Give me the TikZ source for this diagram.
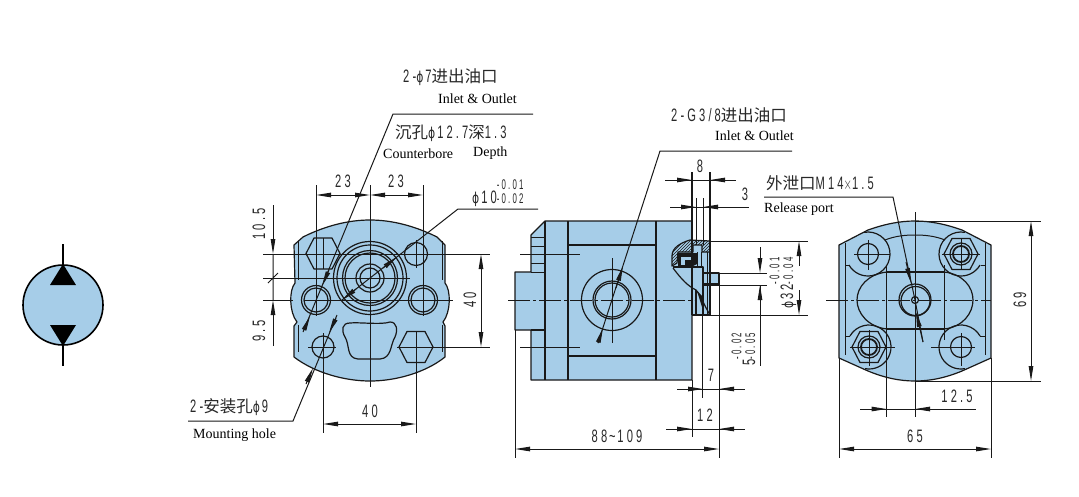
\documentclass[tikz,border=0pt]{standalone}
\usepackage{graphicx}
\usepackage{fontspec}
\setmainfont{Liberation Serif}
\newfontfamily\cjkf{Noto Sans CJK SC}
\newfontfamily\dimf[LetterSpace=28]{Liberation Sans}
\newfontfamily\phif{DejaVu Sans}
\usetikzlibrary{arrows.meta,patterns}
\definecolor{pumpblue}{RGB}{166,205,232}
\definecolor{ink}{RGB}{25,25,25}
\definecolor{txt}{RGB}{40,40,40}
\newcommand\dg[1]{\scalebox{.62}[1]{\fontsize{18}{18}\selectfont\dimf #1}}
\newcommand\cj[1]{{\fontsize{16.5}{17}\selectfont\cjkf #1}}
\newcommand\ph{\scalebox{.72}[1]{\fontsize{15}{15}\selectfont\phif ϕ}\hspace{2pt}}
\newcommand\tol[2]{\scalebox{.56}[1]{\fontsize{14}{13}\selectfont\dimf\begin{tabular}[b]{@{}l@{}}#1\\#2\end{tabular}}}
\tikzset{
  x=1pt,y=-1pt,
  obj/.style={draw=ink,line width=1.2pt,line join=round},
  thin line/.style={draw=ink,line width=1pt},
  cline/.style={draw=ink,line width=1pt,dash pattern=on 22pt off 3pt on 3pt off 3pt},
  dims/.style={draw=ink,line width=1pt},
  both/.style={dims,{Triangle[length=15pt,width=4.5pt]}-{Triangle[length=15pt,width=4.5pt]}},
  endtip/.style={dims,-{Triangle[length=15pt,width=4.5pt]}},
  lbl/.style={inner sep=0pt,text=txt},
  eng/.style={inner sep=0pt,text=black,font=\fontsize{14}{14}\selectfont},
  hexnut/.pic={\draw[obj] (-17,0)--(-9,-15.5)--(9,-15.5)--(17,0)--(9,15.5)--(-9,15.5)--cycle;},
}
\begin{document}
\begin{tikzpicture}
\useasboundingbox (0,0) rectangle (1079,496);
\fill[white] (0,0) rectangle (1079,496);

% ---------- symbol
\draw[line width=1.6pt] (63,244)--(63,366);
\draw[fill=pumpblue,line width=1.6pt] (63,305) circle[radius=40];
\fill (63,264)--(76,285)--(50,285)--cycle;
\fill (63,346)--(76,325)--(50,325)--cycle;
\draw[line width=1.6pt] (63,345)--(63,366) (63,244)--(63,265);

% ---------- front view
\draw[obj,fill=pumpblue] (294,245)--(303,237) .. controls (325,226) and (348,220) .. (370,220)
  .. controls (392,220) and (415,226) .. (437,237) -- (445,245) -- (445,283)
  .. controls (451,290) and (451,312) .. (443,322) -- (445,326) -- (445,357)
  .. controls (425,373) and (395,381) .. (370,381)
  .. controls (345,381) and (315,373) .. (294,357) -- (294,326) -- (297,322)
  .. controls (289,312) and (289,290) .. (295,283) -- cycle;
\draw[thin line] (298,241)--(298,280) (298,325)--(298,352) (442,241)--(442,280) (442,325)--(442,352);
\pic at (323,253.5) {hexnut};
\draw[obj] (416,254) circle[radius=11.5];
\draw[obj] (323,347) circle[radius=11];
\pic at (416,347) {hexnut};
\foreach \hx in {316,423}{
  \draw[obj] (\hx,300) circle[radius=14.5];
  \draw[obj] (\hx,300) circle[radius=12];
}
\foreach \rr in {36.5,33,27.5,25,14,10}{\draw[obj] (370,278) circle[radius=\rr];}
\draw[obj] (350,323) .. controls (358,322) and (382,325) .. (390,322)
  .. controls (397,322) and (398,330) .. (395,337) .. controls (390,345) and (392,358) .. (380,359)
  -- (358,359) .. controls (346,358) and (350,345) .. (345,337)
  .. controls (341,330) and (342,323) .. (350,323) -- cycle;
\draw[thin line] (263,254)--(490,254) (263,278)--(410,278) (263,300)--(293,300) (304,300)--(453,300);
\draw[thin line] (308,347)--(336,347) (397,347)--(490,347);
\draw[thin line] (370,185)--(370,387);
\draw[thin line] (316,185)--(316,316) (423,185)--(423,316);
\draw[thin line] (323,238)--(323,269) (416,240)--(416,268);
\draw[thin line] (323,333)--(323,433) (416,332)--(416,433);
% front dims
\draw[both] (316,195)--(370,195);
\draw[both] (370,195)--(423,195);
\draw[both] (323,424)--(416,424);
\draw[endtip] (273,205)--(273,254);
\draw[endtip] (273,346)--(273,300);
\draw[thin line] (273,254)--(273,300) (268,283)--(278,273);
\draw[both] (481,254)--(481,347);
\node[lbl] (d23a) at (343,181) {\dg{23}};
\node[lbl] (d23b) at (396,181) {\dg{23}};
\node[lbl] (d40b) at (370,411) {\dg{40}};
\node[lbl,rotate=90] (d105) at (259,224) {\dg{10.5}};
\node[lbl,rotate=90] (d95) at (259,331) {\dg{9.5}};
\node[lbl,rotate=90] (d40r) at (470,300) {\dg{40}};
% front leaders
\draw[dims] (533,114)--(393,114)--(303,332);
\draw[endtip] (304,330)--(310,316);
\draw[endtip] (329,270)--(322,286);
\draw[dims] (538,209)--(458,209)--(342,300);
\draw[endtip] (356,289)--(342,300);
\draw[endtip] (383,268)--(397,257);
\draw[dims] (188,421)--(293,421)--(337,315);
\draw[endtip] (306,384)--(313,368);
\draw[endtip] (336,318)--(329,333);
\node[lbl,anchor=west] (t1) at (403,77) {\dg{2-}\ph\dg{7}\cj{进出油口}};
\node[eng,anchor=west] (t1e) at (438,99) {Inlet \& Outlet};
\node[lbl,anchor=west] (t2) at (395,133) {\cj{沉孔}\ph\dg{12.7}\cj{深}\dg{1.3}};
\node[eng,anchor=west] (t2e) at (383,154) {Counterbore};
\node[eng,anchor=west] (t2f) at (473,153) {Depth};
\node[lbl,anchor=base west] (t3) at (472,203) {\ph\dg{10}\tol{-0.01}{-0.02}};
\node[lbl,anchor=west] (t4) at (190,407) {\dg{2-}\cj{安装孔}\ph\dg{9}};
\node[eng,anchor=west] (t4e) at (193,435) {Mounting hole};

% ---------- side view
\draw[obj,fill=pumpblue] (545,221)--(692,221)--(692,380)--(531,380)--(531,330)--(515,330)--(515,272)--(531,272)--(531,235)--cycle;
\draw[obj] (545,221)--(545,330) (531,330)--(545,330) (545,330)--(545,380) (568,221)--(568,380) (656,221)--(656,380);
\draw[obj] (568,245)--(656,245) (568,356)--(656,356);
\draw[thin line] (531,237)--(545,237) (531,246)--(545,246) (531,263)--(545,263) (531,272)--(545,272);
\draw[obj] (612,300) circle[radius=30.5];
\draw[obj] (612,300) circle[radius=19];
\draw[obj] (612,300) circle[radius=17];
% seal / shaft detail
\fill[pumpblue] (692,241) rectangle (710,315);
\draw[obj,fill=pumpblue] (703,273) rectangle (719,284);
\draw[obj,pattern=north east lines,pattern color=ink] (690,240) .. controls (680,243) and (672,248) .. (672,256)
  -- (672,266) -- (677,263) -- (678,252) -- (693,252) -- (693,245) -- (702,245) -- (702,252) -- (710,252) -- (710,241) -- cycle;
\fill[ink] (678,253)--(697,253)--(697,264)--(691,267)--(678,267)--cycle;
\fill[pumpblue] (681,257) rectangle (685,265);
\fill[pumpblue] (681,257) rectangle (691,260);
\draw[obj] (673,268) .. controls (682,280) and (688,286) .. (696,290) .. controls (700,294) and (704,305) .. (710,315);
\fill[ink] (697,291)--(702,296)--(702,307)--cycle;
\draw[obj] (673,267)--(703,267)--(703,315);
\draw[thin line] (697,252)--(697,267) (701,252)--(701,267) (707,252)--(707,315);
\draw[obj] (692,172)--(692,315) (710,172)--(710,315) (692,315)--(710,315) (696,290)--(696,315);
\draw[thin line] (696,198)--(696,245) (703,198)--(703,245);
\draw[thin line] (710,241)--(808,241) (710,315)--(808,315);
\draw[thin line] (719,273)--(767,273) (703,285)--(767,285);
\draw[cline] (508,300)--(694,300);
\draw[thin line] (612,258)--(612,343);
\draw[thin line] (520,254)--(580,254) (520,347)--(580,347);
\draw[thin line] (515,330)--(515,458);
\draw[thin line] (719,284)--(719,458);
\draw[thin line] (692,380)--(692,437);
\draw[thin line] (702.5,315)--(702.5,398);
% side dims
\draw[both] (515,449)--(719,449);
\draw[dims] (677,389)--(745,389);
\draw[endtip] (686,389)--(703,389);
\draw[endtip] (737,389)--(719,389);
\draw[dims] (666,429)--(745,429);
\draw[endtip] (674,429)--(692,429);
\draw[endtip] (737,429)--(719,429);
\draw[dims] (665,180)--(736,180);
\draw[endtip] (672,180)--(692,180);
\draw[endtip] (730,180)--(710,180);
\draw[dims] (670,207)--(749,207);
\draw[endtip] (678,207)--(696,207);
\draw[endtip] (722,207)--(703,207);
\draw[endtip] (760,247)--(760,273);
\draw[endtip] (760,305)--(760,285);
\draw[dims] (760,285)--(760,366);
\draw[endtip] (799,266)--(799,241);
\draw[endtip] (799,290)--(799,315);
\node[lbl] (d88) at (617,436) {\dg{88\,\textasciitilde\,109}};
\node[lbl] (d12) at (705,415) {\dg{12}};
\node[lbl] (d7) at (711,375) {\dg{7}};
\node[lbl] (d8) at (700,166) {\dg{8}};
\node[lbl] (d3) at (745,194) {\dg{3}};
\node[lbl,rotate=90,anchor=base west] (d5) at (755,366) {\dg{5}\tol{-0.02}{-0.05}};
\node[lbl,rotate=90,anchor=base west] (d32) at (793,309) {\ph\dg{32}\tol{-0.01}{-0.04}};
\draw[dims] (792,151)--(660,151)--(598,343);
\draw[endtip] (616,288)--(623,266);
\draw[endtip] (598,343)--(603,328);
\node[lbl,anchor=west] (t5) at (671,115) {\dg{2-G3/8}\cj{进出油口}};
\node[eng,anchor=west] (t5e) at (715,136) {Inlet \& Outlet};
\node[lbl,anchor=west] (t6) at (766,183) {\cj{外泄口}\dg{M14$\times$1.5}};
\node[eng,anchor=west] (t6e) at (764,209) {Release port};

% ---------- rear view
\draw[obj,fill=pumpblue] (839,245)--(868,230) .. controls (885,224) and (900,221) .. (915,221)
  .. controls (930,221) and (945,224) .. (962,230) -- (991,245) -- (991,358) -- (962,371)
  .. controls (945,378) and (930,381) .. (915,381) .. controls (900,381) and (885,378) .. (868,371)
  -- (839,358) -- cycle;
\draw[thin line] (845,243)--(845,355) (985,243)--(985,355);
\draw[thin line] (885,240) .. controls (895,236) and (905,235) .. (915,235) .. controls (925,235) and (935,236) .. (945,240);
\draw[obj] (868,254) ++(100:22pt) arc[start angle=100,end angle=-150,radius=22pt];
\draw[obj] (961,254) ++(80:22pt) arc[start angle=80,end angle=330,radius=22pt];
\draw[obj] (869,347) ++(150:22pt) arc[start angle=150,end angle=-100,radius=22pt];
\draw[obj] (961,347) ++(30:22pt) arc[start angle=30,end angle=280,radius=22pt];
\draw[thin line] (845,265)--(849,265) (981,265)--(985,265) (845,336)--(850,336) (980,336)--(985,336);
\draw[obj] (868,254) circle[radius=10.5];
\draw[obj] (961,347) circle[radius=10.5];
\begin{scope}[scale=.98]
\pic at ({961/.98},{254/.98}) {hexnut};
\pic at ({869/.98},{347/.98}) {hexnut};
\end{scope}
\draw[obj,line width=1.8pt] (961,254) circle[radius=8];
\draw[obj,line width=1.8pt] (869,347) circle[radius=8];
\draw[obj] (961,254) circle[radius=11];
\draw[obj] (869,347) circle[radius=11];
\draw[obj] (887,272)--(944,272) (887,329)--(944,329);
\draw[obj] (887,272) .. controls (868,274) and (857,287) .. (857,300) .. controls (857,313) and (868,327) .. (887,329);
\draw[obj] (944,272) .. controls (963,274) and (973,287) .. (973,300) .. controls (973,313) and (963,327) .. (944,329);
\draw[obj] (915,300) circle[radius=16];
\draw[obj] (915.5,301) circle[radius=14.5];
\draw[obj] (915,300) circle[radius=3.5];
\draw[thin line] (854,254)--(890,254) (868,240)--(868,270) (942,254)--(980,254) (961,238)--(961,270);
\draw[thin line] (850,347)--(895,347) (869,330)--(869,366) (931,347)--(975,347) (961,333)--(961,366);
\draw[cline] (826,300)--(991,300);
\draw[thin line] (915,212)--(915,417);
\draw[thin line] (886.5,265)--(886.5,417) (944,265)--(944,340);
\draw[thin line] (915,221)--(1041,221) (915,381)--(1041,381);
\draw[thin line] (839,358)--(839,458) (991,358)--(991,458);
% rear dims
\draw[both] (1031,221)--(1031,381);
\draw[both] (839,449)--(991,449);
\draw[dims] (860,409)--(976,409);
\draw[endtip] (868,409)--(886.5,409);
\draw[endtip] (933,409)--(915,409);
\node[lbl,rotate=90] (d69) at (1020,300) {\dg{69}};
\node[lbl] (d125) at (957,396) {\dg{12.5}};
\node[lbl] (d65) at (915,436) {\dg{65}};
\draw[dims] (764,197)--(893,197)--(915,300)--(923,342);
\draw[endtip] (906,262)--(911,283);
\draw[endtip] (923,342)--(916,312);
\end{tikzpicture}
\end{document}
